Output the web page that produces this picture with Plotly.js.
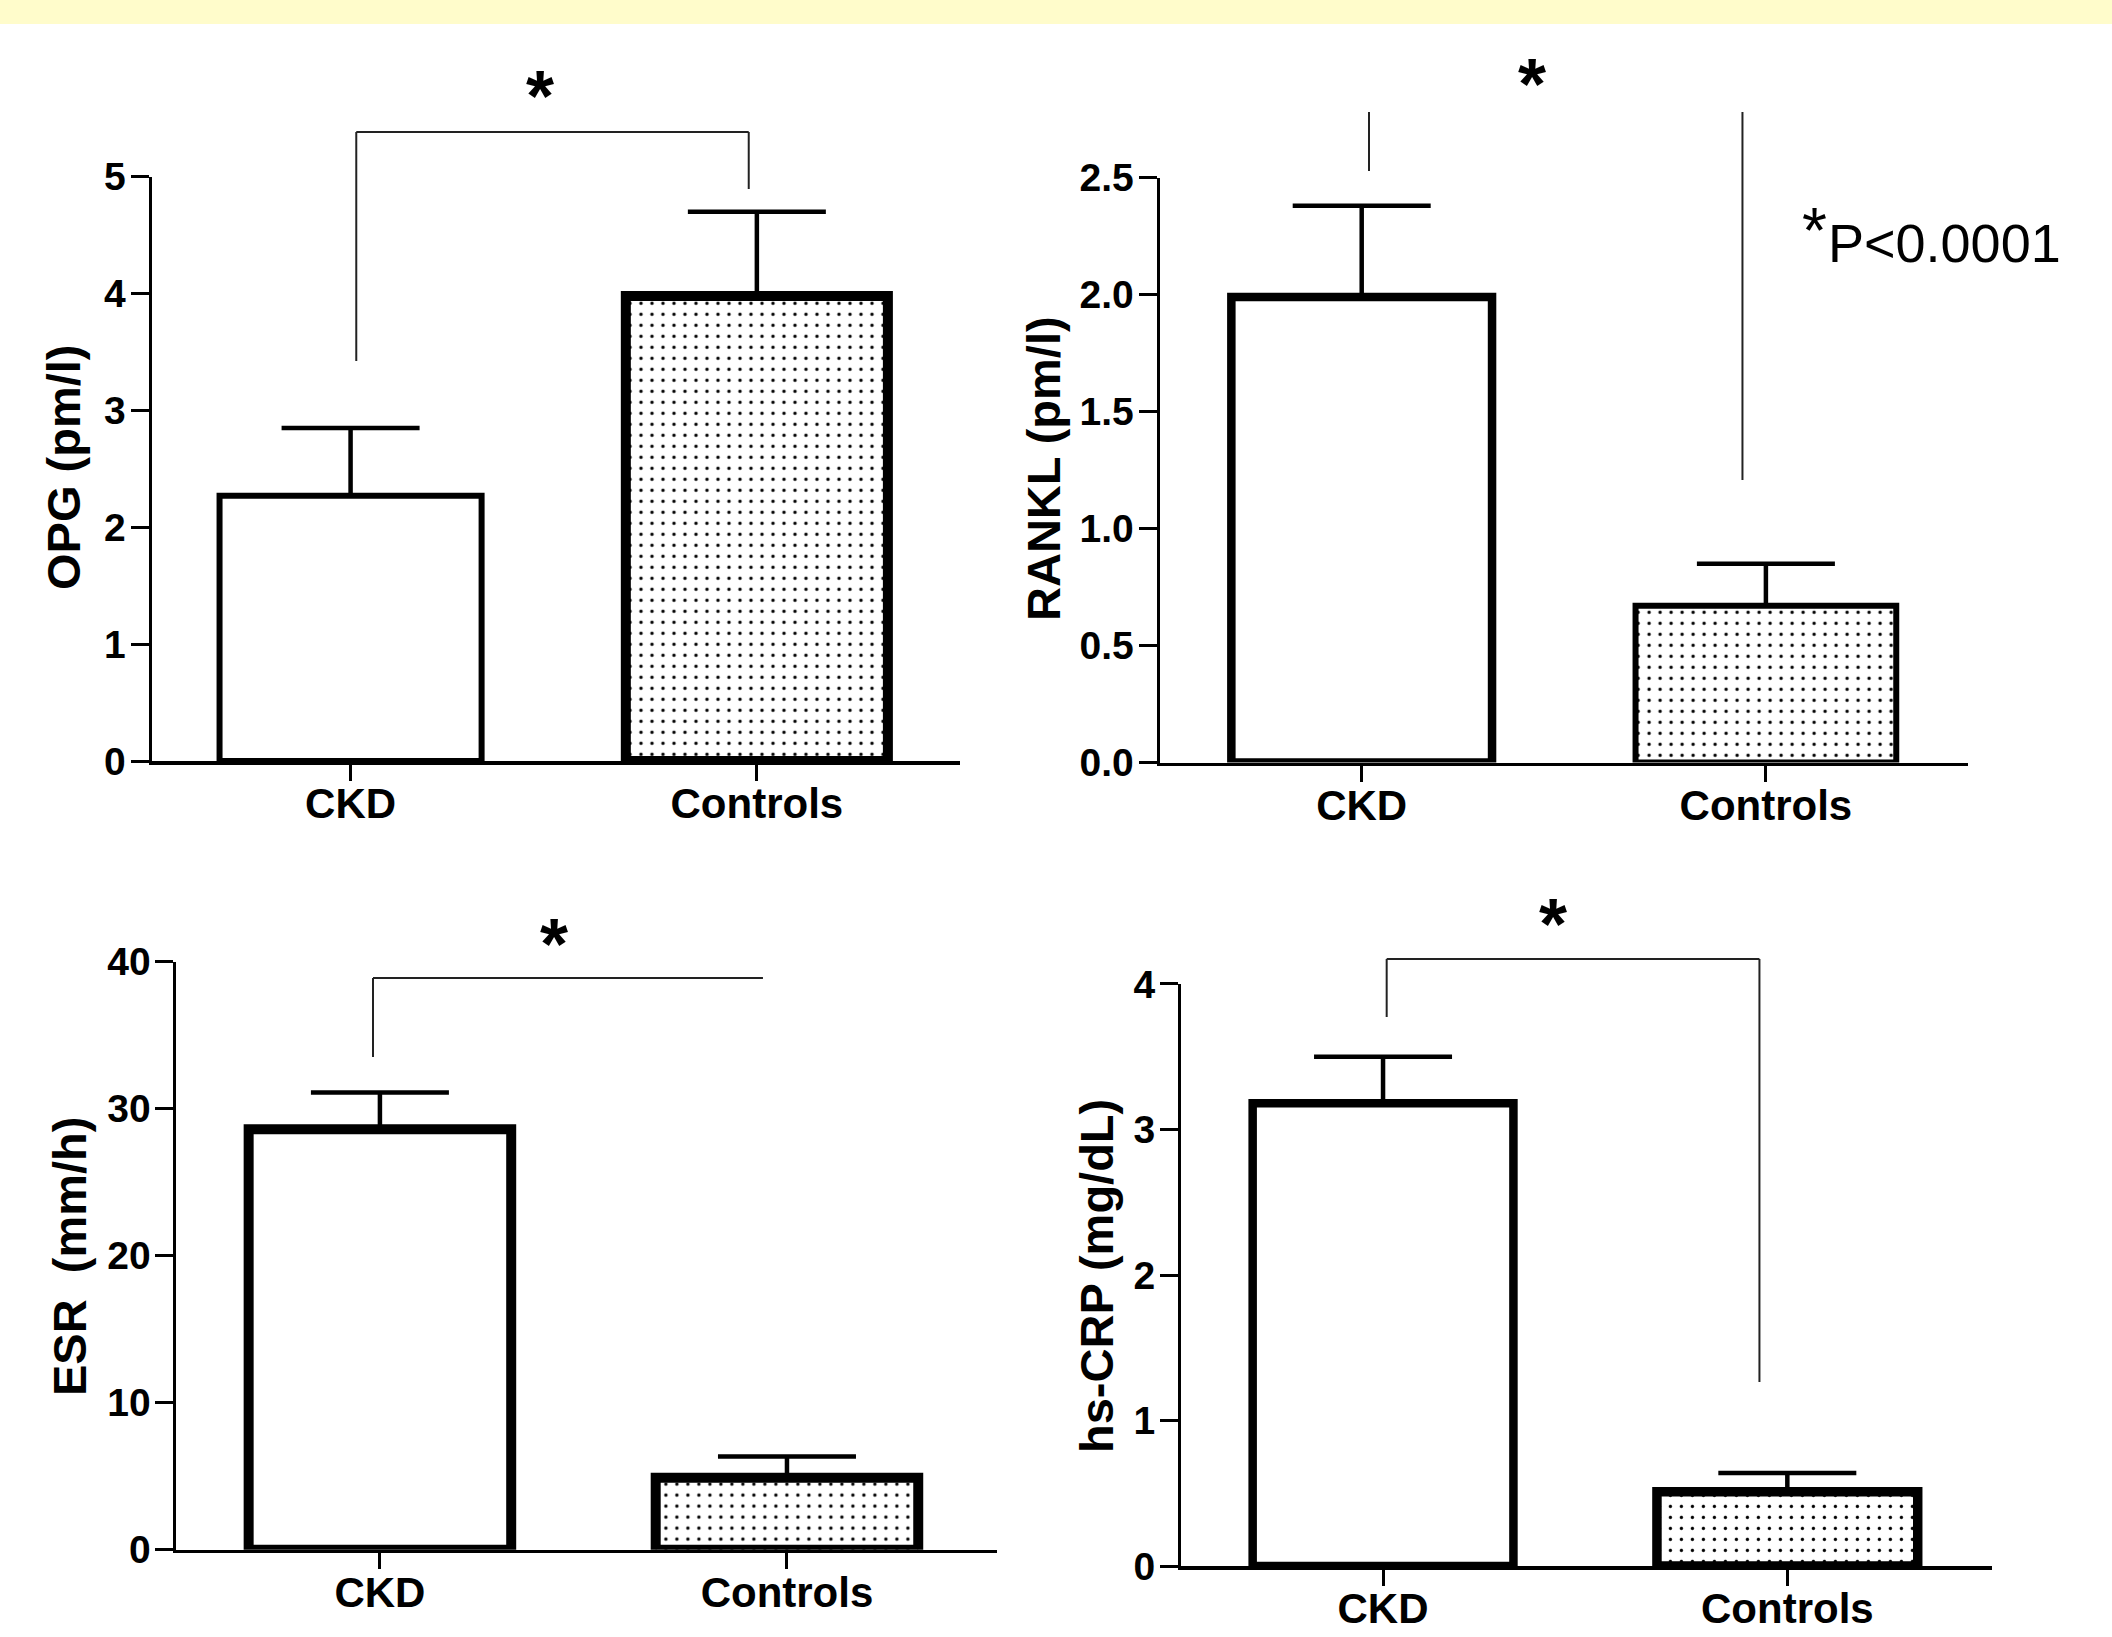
<!DOCTYPE html>
<html>
<head>
<meta charset="utf-8">
<script src="https://cdn.plot.ly/plotly-3.0.1.min.js"></script>
<style>
  html, body { margin: 0; padding: 0; background: #ffffff; }
  #chart { width: 2112px; height: 1637px; }
</style>
</head>
<body>
<div id="chart"></div>
<script>
// ---------------- data ----------------
const categories = ['CKD', 'Controls'];

const opgMean   = [2.27, 3.98];
const opgSem    = [0.58, 0.72];
const opgTicks  = [0, 1, 2, 3, 4, 5];

const ranklMean  = [1.99, 0.67];
const ranklSem   = [0.39, 0.18];
const ranklTicks = [0.0, 0.5, 1.0, 1.5, 2.0, 2.5];

const esrMean  = [28.6, 4.9];
const esrSem   = [2.5, 1.45];
const esrTicks = [0, 10, 20, 30, 40];

const crpMean  = [3.18, 0.51];
const crpSem   = [0.32, 0.13];
const crpTicks = [0, 1, 2, 3, 4];

const yTitles = ['OPG (pm/l)', 'RANKL (pm/l)', 'ESR  (mm/h)', 'hs-CRP (mg/dL)'];
const pNote = 'P&lt;0.0001';

// ---------------- helpers (layout only) ----------------
const W = 2112, H = 1637;
const X = px => px / W;
const Y = py => 1 - py / H;

const BOLD = 'Liberation Sans, Arial, sans-serif';

function barTrace(xa, ya, means, sems, lineWidths) {
  return {
    type: 'bar',
    x: categories,
    y: means,
    xaxis: xa, yaxis: ya,
    width: 0.645,
    marker: {
      color: '#ffffff',
      line: { color: '#000000', width: lineWidths },
      pattern: {
        shape: ['', '.'],
        bgcolor: '#ffffff',
        fgcolor: '#000000',
        size: 11,
        solidity: 0.07
      }
    },
    error_y: {
      type: 'data', symmetric: false,
      array: sems, arrayminus: sems.map(() => 0),
      color: '#000000', thickness: 4.5, width: 69
    },
    hoverinfo: 'skip',
    showlegend: false
  };
}

const traces = [
  barTrace('x', 'y', opgMean, opgSem, [6, 10]),
  barTrace('x2', 'y2', ranklMean, ranklSem, [8.5, 6]),
  barTrace('x3', 'y3', esrMean, esrSem, [10, 10]),
  barTrace('x4', 'y4', crpMean, crpSem, [8.5, 9.5])
];

function xAxis(domain, anchor, range) {
  return {
    domain: domain, anchor: anchor, range: range, type: 'category',
    showline: true, linecolor: '#000', linewidth: 3.5,
    ticks: 'outside', ticklen: 16, tickwidth: 3, tickcolor: '#000',
    ticklabelstandoff: -13,
    showgrid: false, zeroline: false, fixedrange: true,
    tickfont: { family: BOLD, size: 42, color: '#000', weight: 'bold' }
  };
}
function yAxis(domain, anchor, range, tickvals, fmt) {
  return {
    domain: domain, anchor: anchor, range: range,
    tickvals: tickvals, tickformat: fmt,
    showline: true, linecolor: '#000', linewidth: 3,
    ticks: 'outside', ticklen: 18, tickwidth: 3, tickcolor: '#000',
    ticklabelstandoff: -3,
    showgrid: false, zeroline: false, fixedrange: true,
    tickfont: { family: BOLD, size: 39, color: '#000', weight: 'bold' }
  };
}

const lineStyle = { color: '#222222', width: 2 };
function vline(xref, x, py0, py1) {
  return { type: 'line', xref: xref, yref: 'paper', x0: x, x1: x, y0: Y(py0), y1: Y(py1), line: lineStyle };
}
function hline(xref, xa, xb, py) {
  return { type: 'line', xref: xref, yref: 'paper', x0: xa, x1: xb, y0: Y(py), y1: Y(py), line: lineStyle };
}

const shapes = [
  // top yellow band
  { type: 'rect', xref: 'paper', yref: 'paper', x0: 0, x1: 1, y0: Y(24), y1: 1,
    fillcolor: '#fffccb', line: { width: 0 }, layer: 'below' },
  // OPG bracket
  vline('x', 0.014, 361, 132), hline('x', 0.014, 0.98, 132), vline('x', 0.98, 132, 189),
  // RANKL lines
  vline('x2', 0.018, 112, 171), vline('x2', 0.942, 112, 480),
  // ESR bracket
  vline('x3', -0.017, 1057, 978), hline('x3', -0.017, 0.941, 978),
  // hs-CRP bracket
  vline('x4', 0.009, 1017, 959), hline('x4', 0.009, 0.931, 959), vline('x4', 0.931, 959, 1382)
];

function star(xref, x, py) {
  return { xref: xref, yref: 'paper', x: x, y: Y(py), xanchor: 'center', yanchor: 'middle',
    text: '*', showarrow: false, font: { family: BOLD, size: 72, color: '#000', weight: 'bold' } };
}
function ytitle(text, px, py) {
  return { xref: 'paper', yref: 'paper', x: X(px), y: Y(py), xanchor: 'center', yanchor: 'middle',
    text: text, textangle: -90, showarrow: false,
    font: { family: BOLD, size: 47, color: '#000', weight: 'bold' } };
}

const annotations = [
  star('x', 0.466, 96),
  star('x2', 0.421, 84),
  star('x3', 0.427, 944),
  star('x4', 0.42, 924),
  ytitle(yTitles[0], 63, 468),
  ytitle(yTitles[1], 1043, 469),
  ytitle(yTitles[2], 69, 1257),
  ytitle(yTitles[3], 1096, 1276),
  { xref: 'paper', yref: 'paper', x: X(1814), y: Y(231), xanchor: 'center', yanchor: 'middle',
    text: '*', showarrow: false, font: { family: 'Liberation Sans, Arial, sans-serif', size: 64, color: '#000' } },
  { xref: 'paper', yref: 'paper', x: X(1826), y: Y(243), xanchor: 'left', yanchor: 'middle',
    text: pNote, showarrow: false, font: { family: 'Liberation Sans, Arial, sans-serif', size: 54, color: '#000' } }
];

const layout = {
  width: W, height: H,
  margin: { l: 0, r: 0, t: 0, b: 0, pad: 0 },
  paper_bgcolor: '#ffffff', plot_bgcolor: 'rgba(0,0,0,0)',
  showlegend: false,
  bargap: 0,
  xaxis:  xAxis([X(151.5), X(960)], 'y', [-0.49, 1.5]),
  yaxis:  yAxis([Y(761), Y(176.8)], 'x', [0, 5], opgTicks, 'd'),
  xaxis2: xAxis([X(1159.6), X(1968)], 'y2', [-0.5, 1.5]),
  yaxis2: yAxis([Y(762.6), Y(177.8)], 'x2', [0, 2.5], ranklTicks, '.1f'),
  xaxis3: xAxis([X(176.4), X(996.6)], 'y3', [-0.5, 1.515]),
  yaxis3: yAxis([Y(1549.8), Y(961.6)], 'x3', [0, 40], esrTicks, 'd'),
  xaxis4: xAxis([X(1180.9), X(1991.5)], 'y4', [-0.5, 1.505]),
  yaxis4: yAxis([Y(1566.1), Y(983.9)], 'x4', [0, 4], crpTicks, 'd'),
  shapes: shapes,
  annotations: annotations
};

Plotly.newPlot('chart', traces, layout, { staticPlot: true, displayModeBar: false });
</script>
</body>
</html>
